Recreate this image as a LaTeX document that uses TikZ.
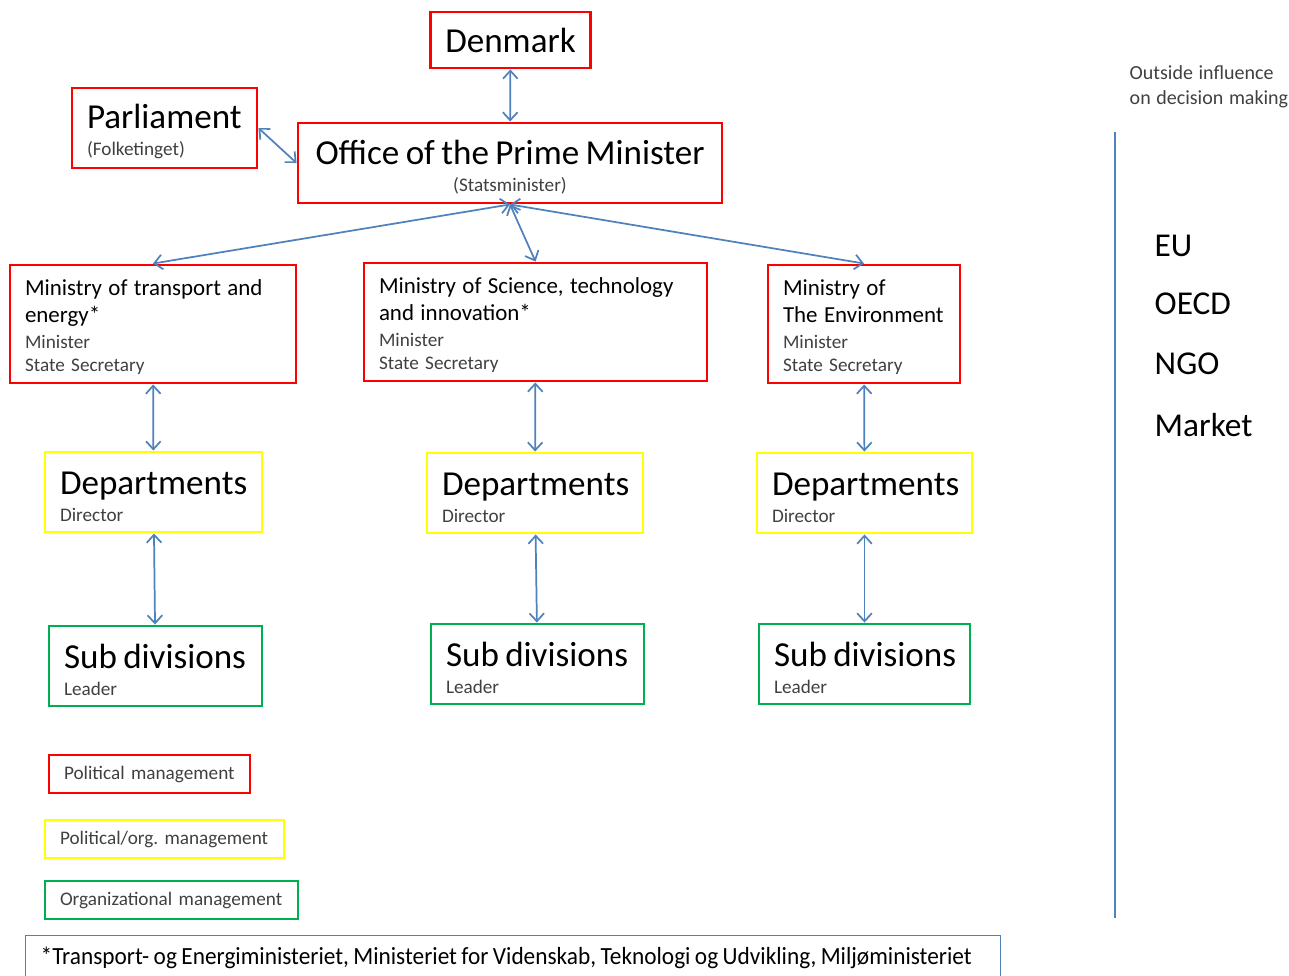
\documentclass[tikz,border=0pt]{standalone}
\usepackage{fontspec}
\setmainfont{Carlito}[WordSpace=1.25]
\newfontfamily\narrowfont{Carlito}[FakeStretch=0.945,WordSpace=1.2]
\usetikzlibrary{arrows.meta}
\definecolor{polred}{RGB}{255,0,0}
\definecolor{orgyellow}{RGB}{255,255,0}
\definecolor{orggreen}{RGB}{0,176,80}
\definecolor{linkblue}{RGB}{79,129,189}
\definecolor{subgray}{RGB}{64,64,64}
\newdimen\pxu \pxu=0.75pt
\frenchspacing
\hyphenpenalty=10000
\exhyphenpenalty=10000
% first lines get a strut so the text sits a little lower in its box
\newcommand\headfont{\fontsize{26.3}{30}\selectfont\rule{0pt}{24pt}}
\newcommand\minfont{\fontsize{17.2}{21}\selectfont\rule{0pt}{16.5pt}}
\newcommand\notefont{\fontsize{14.4}{17}\selectfont\color{subgray}}

\begin{document}
\begin{tikzpicture}[x=\pxu,y=-\pxu,
    box/.style={draw,line width=2.2pt,align=left,inner xsep=15\pxu,inner ysep=0pt,
      text=black,font=\fontsize{14.4}{20.3}\selectfont},
    pol/.style={box,draw=polred},
    porg/.style={box,draw=orgyellow},
    org/.style={box,draw=orggreen},
    ministry/.style={pol,minimum height=118\pxu,font=\fontsize{14.4}{17.25}\selectfont},
    link/.style={{Straight Barb[length=6pt,width=11pt]}-{Straight Barb[length=6pt,width=11pt]},linkblue,line width=1.3pt}]
  \useasboundingbox (0,0) rectangle (1289,975);

  \node[pol,minimum width=159\pxu,minimum height=56\pxu,font=\fontsize{26.3}{30}\selectfont] (denmark) at (510.5,40) {Denmark};
  \node[pol,minimum height=80\pxu,text width=155\pxu] (parl) at (164.5,128)
    {\headfont Parliament\\ \notefont (Folketinget)};
  \node[pol,align=center,minimum height=80\pxu,text width=394\pxu] (pm) at (510,163)
    {\headfont Office of the Prime Minister\\ \notefont (Statsminister)};

  \node[ministry,text width=256\pxu] (mtrans) at (153,324)
    {\minfont Ministry of transport and\\[-0.5pt] energy*\\[2.3pt] \notefont Minister\\ State Secretary};
  \node[ministry,text width=313\pxu] (msci) at (535.5,322)
    {\minfont Ministry of Science, technology\\[-0.5pt] and innovation*\\[2.3pt] \notefont Minister\\ State Secretary};
  \node[ministry,text width=162\pxu] (menv) at (864,324)
    {\minfont Ministry of\\[-0.5pt] The Environment\\[2.3pt] \notefont Minister\\ State Secretary};

  \node[porg,minimum height=80\pxu,text width=187\pxu] (dtrans) at (153.5,492)
    {\headfont Departments\\ \notefont Director};
  \node[porg,minimum height=80\pxu,text width=186\pxu] (dsci) at (535,493)
    {\headfont Departments\\ \notefont Director};
  \node[porg,minimum height=80\pxu,text width=185\pxu] (denv) at (864.5,493)
    {\headfont Departments\\ \notefont Director};

  \node[org,minimum height=80\pxu,text width=183\pxu] (strans) at (155.5,666)
    {\headfont Sub~divisions\\ \notefont Leader};
  \node[org,minimum height=80\pxu,text width=183\pxu] (ssci) at (537.5,664)
    {\headfont Sub~divisions\\ \notefont Leader};
  \node[org,minimum height=80\pxu,text width=181\pxu] (senv) at (864.5,664)
    {\headfont Sub~divisions\\ \notefont Leader};

  \draw[link] (denmark) -- (pm);
  \draw[link] (parl.east) -- (pm.west);
  \draw[link] (pm.south) -- (mtrans.north);
  \draw[link] (pm.south) -- (msci.north);
  \draw[link] (pm.south) -- (menv.north);
  \draw[link] (mtrans) -- (dtrans);
  \draw[link] (msci) -- (dsci);
  \draw[link] (menv) -- (denv);
  \draw[link] (dtrans) -- (strans);
  \draw[link] (dsci) -- (ssci);
  \draw[link] (denv) -- (senv);

  \node[pol,minimum height=38\pxu,text width=171\pxu] (keypol) at (149.5,774) {\notefont Political management};
  \node[porg,minimum height=38\pxu,text width=209\pxu] (keyporg) at (164.5,839) {\notefont Political/org. management};
  \node[org,minimum height=38\pxu,text width=223\pxu] (keyorg) at (171.5,900) {\notefont Organizational management};

  \node[draw=linkblue,line width=1.1pt,anchor=north west,align=left,minimum height=44\pxu,
    text width=945\pxu,inner xsep=15\pxu,inner ysep=0pt] (note) at (25,935)
    {\narrowfont\fontsize{18.5}{22}\selectfont *Transport- og Energiministeriet, Ministeriet for Videnskab, Teknologi og Udvikling, Miljøministeriet};

  \draw[linkblue,line width=1.1pt] (1115,132) -- (1115,918);
  \node[anchor=west,align=left,text=subgray,font=\fontsize{15}{18.8}\selectfont] (outside) at (1125,87)
    {Outside influence\\on decision making};
  \node[anchor=west,font=\fontsize{25}{30}\selectfont] (eu) at (1150,246) {EU};
  \node[anchor=west,font=\fontsize{25}{30}\selectfont] (oecd) at (1150,304) {OECD};
  \node[anchor=west,font=\fontsize{25}{30}\selectfont] (ngo) at (1150,364) {NGO};
  \node[anchor=west,font=\fontsize{25}{30}\selectfont] (market) at (1150,425) {Market};
\end{tikzpicture}
\end{document}
